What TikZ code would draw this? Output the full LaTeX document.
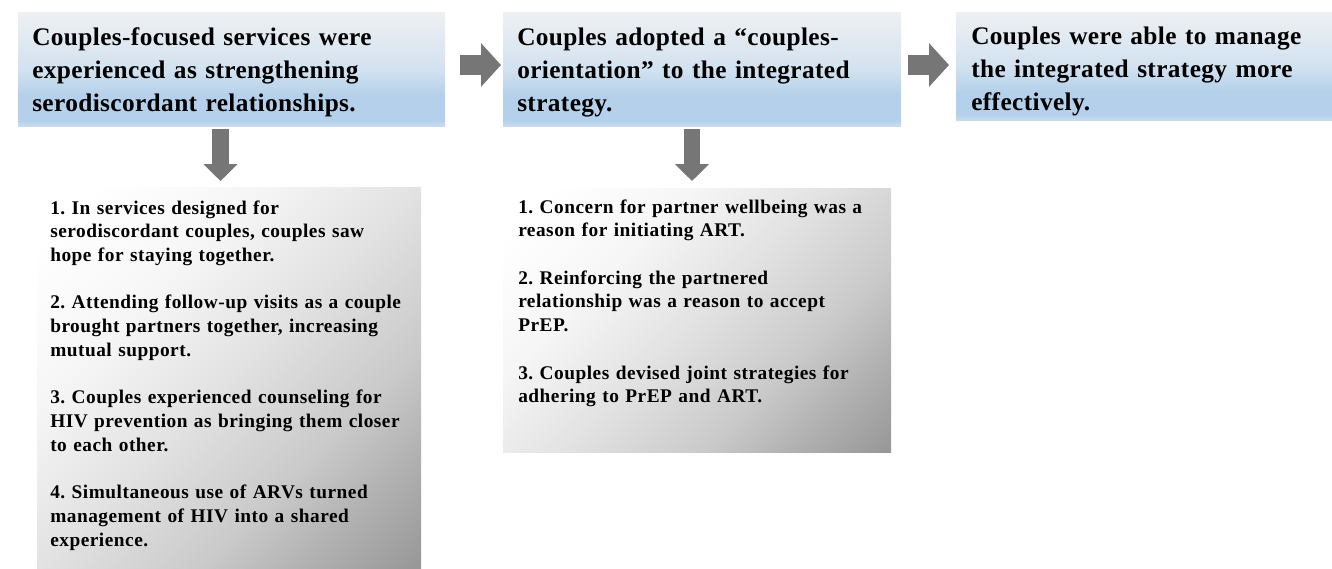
\documentclass[tikz,border=0pt]{standalone}
\usepackage{fontspec}
\setmainfont{Liberation Serif}
\newfontfamily\topfont[LetterSpace=1.5]{Liberation Serif}
\newfontfamily\lowfont[LetterSpace=2.6]{Liberation Serif}
\frenchspacing
\usetikzlibrary{arrows.meta}
\definecolor{tbA}{HTML}{EFF0F2}
\definecolor{tbB}{HTML}{D2E2F0}
\definecolor{tbC}{HTML}{B4D0EA}
\definecolor{tbD}{HTML}{C8DCEF}
\definecolor{lgA}{HTML}{F6F6F6}
\definecolor{lgB}{HTML}{E2E2E2}
\definecolor{lgC}{HTML}{CACACA}
\definecolor{lgE}{HTML}{B0B0B0}
\definecolor{lgD}{HTML}{989898}
\definecolor{arrowgray}{HTML}{767676}
\pgfdeclareverticalshading{topshade}{100bp}{color(0bp)=(tbD); color(25bp)=(tbD); color(27.5bp)=(tbC); color(38bp)=(tbC); color(50bp)=(tbB); color(75bp)=(tbA); color(100bp)=(tbA)}
\pgfdeclareverticalshading{lowshade}{100bp}{color(0bp)=(lgD); color(15bp)=(lgD); color(25bp)=(lgE); color(35bp)=(lgC); color(50bp)=(lgB); color(65bp)=(lgA); color(80bp)=(white); color(100bp)=(white)}
\tikzset{
  topbox/.style={shade, shading=topshade, draw=none, inner sep=0pt, outer sep=0pt, anchor=north west},
  lowbox/.style={shade, shading=lowshade, shading angle=45, draw=none, inner sep=0pt, outer sep=0pt, anchor=north west},
  toptext/.style={anchor=base west, inner sep=0pt, text width=340pt, align=left,
    font=\topfont\fontsize{19}{24.75}\selectfont\bfseries},
  lowtext/.style={anchor=base west, inner sep=0pt, text width=320pt, align=left,
    font=\lowfont\fontsize{14.5}{17.8}\selectfont\bfseries},
  rarrow/.style={draw=arrowgray, line width=15pt, -{Triangle[width=32pt,length=15pt]}},
  darrow/.style={draw=arrowgray, line width=12.5pt, -{Triangle[width=25pt,length=12.75pt]}},
}
\begin{document}
\begin{tikzpicture}[x=0.75pt,y=-0.75pt]
\useasboundingbox (0,0) rectangle (1332,568);
% top boxes
\node[topbox, minimum width=320.25pt, minimum height=85.5pt] (top1) at (18,12) {};
\node[topbox, minimum width=298.5pt, minimum height=85.5pt] (top2) at (503,12) {};
\node[topbox, minimum width=282pt, minimum height=81pt] (top3) at (956,12) {};
% lower boxes
\node[lowbox, minimum width=288pt, minimum height=285.75pt] (low1) at (37,187) {};
\node[lowbox, minimum width=291pt, minimum height=198pt] (low2) at (503,188) {};
% texts
\node[toptext] (t1) at (32,45) {Couples-focused services were\\experienced as strengthening\\serodiscordant relationships.};
\node[toptext] (t2) at (517,45) {Couples adopted a “couples-\\orientation” to the integrated\\strategy.};
\node[toptext] (t3) at (971,44) {Couples were able to manage\\the integrated strategy more\\effectively.};
\node[lowtext] (l1) at (50,214) {1. In services designed for\\serodiscordant couples, couples saw\\hope for staying together.\\[17.8pt]
2. Attending follow-up visits as a couple\\brought partners together, increasing\\mutual support.\\[17.8pt]
3. Couples experienced counseling for\\HIV prevention as bringing them closer\\to each other.\\[17.8pt]
4. Simultaneous use of ARVs turned\\management of HIV into a shared\\experience.};
\node[lowtext] (l2) at (518,213) {1. Concern for partner wellbeing was a\\reason for initiating ART.\\[17.8pt]
2. Reinforcing the partnered\\relationship was a reason to accept\\PrEP.\\[17.8pt]
3. Couples devised joint strategies for\\adhering to PrEP and ART.};
% arrows
\coordinate (r1s) at (460,65);
\coordinate (r1e) at (501,65);
\coordinate (r2s) at (908,65);
\coordinate (r2e) at (949,65);
\coordinate (d1s) at (220.5,129);
\coordinate (d1e) at (220.5,181);
\coordinate (d2s) at (692,129);
\coordinate (d2e) at (692,181);
\draw[rarrow] (r1s) -- (r1e);
\draw[rarrow] (r2s) -- (r2e);
\draw[darrow] (d1s) -- (d1e);
\draw[darrow] (d2s) -- (d2e);
\end{tikzpicture}
\end{document}
